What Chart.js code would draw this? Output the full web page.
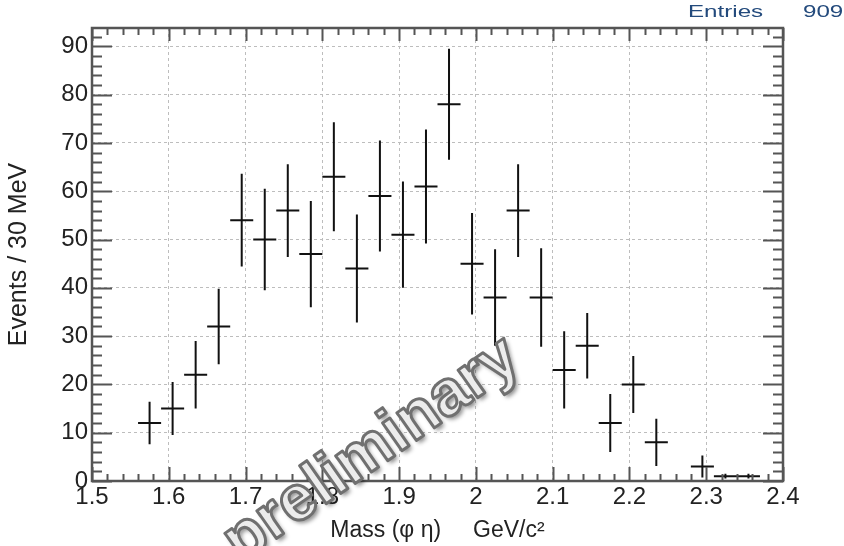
<!DOCTYPE html>
<html>
<head>
<meta charset="utf-8">
<script src="https://cdn.jsdelivr.net/npm/chart.js@4"></script>
<style>
  html, body { margin: 0; padding: 0; background: #fff; }
  #wrap { width: 844px; height: 546px; position: relative; }
</style>
</head>
<body>
<div id="wrap"><canvas id="massChart" width="844" height="546"></canvas></div>
<script>
// bin centres (30 MeV bins), contents and errors
const binCenters = [1.575, 1.605, 1.635, 1.665, 1.695, 1.725, 1.755, 1.785, 1.815, 1.845,
                    1.875, 1.905, 1.935, 1.965, 1.995, 2.025, 2.055, 2.085, 2.115, 2.145,
                    2.175, 2.205, 2.235, 2.295, 2.325, 2.355];
const counts = [12, 15, 22, 32, 54, 50, 56, 47, 63, 44,
                59, 51, 61, 78, 45, 38, 56, 38, 23, 28,
                12, 20, 8, 3, 1, 1];
const errors = [4.4, 5.5, 7, 7.8, 9.6, 10.5, 9.6, 11, 11.3, 11.2,
                11.5, 11, 11.8, 11.5, 10.5, 10, 9.6, 10.2, 8, 6.8,
                6, 5.9, 4.9, 2.3, 0.5, 0.5];
const binWidth = 0.03;
const xTicks = [1.5, 1.6, 1.7, 1.8, 1.9, 2.0, 2.1, 2.2, 2.3, 2.4];
const yTicks = [0, 10, 20, 30, 40, 50, 60, 70, 80, 90];
const entries = 909;

const FONT = "'Liberation Sans', Arial, Helvetica, sans-serif";

// error crosses: horizontal = bin width, vertical = error
const errorBars = {
    id: "errorBars",
    afterDatasetsDraw(chart) {
        const ctx = chart.ctx, xs = chart.scales.x, ys = chart.scales.y;
        ctx.save();
        ctx.strokeStyle = "#111";
        ctx.lineWidth = 2;
        binCenters.forEach((c, i) => {
            const px = xs.getPixelForValue(c);
            const py = ys.getPixelForValue(counts[i]);
            ctx.beginPath();
            ctx.moveTo(xs.getPixelForValue(c - binWidth / 2), py);
            ctx.lineTo(xs.getPixelForValue(c + binWidth / 2), py);
            ctx.moveTo(px, ys.getPixelForValue(counts[i] + errors[i]));
            ctx.lineTo(px, ys.getPixelForValue(Math.max(0, counts[i] - errors[i])));
            ctx.stroke();
        });
        ctx.restore();
    }
};

// ROOT-style frame with inner ticks on all four sides
const frame = {
    id: "frame",
    afterDatasetsDraw(chart) {
        const ctx = chart.ctx, xs = chart.scales.x, ys = chart.scales.y;
        const a = chart.chartArea;
        ctx.save();
        ctx.strokeStyle = "#555";
        ctx.lineWidth = 2;
        ctx.beginPath();
        for (let v = 1.5; v <= 2.4001; v += 0.02) {
            const px = Math.round(xs.getPixelForValue(v)) + 0.5;
            const major = Math.abs(v * 10 - Math.round(v * 10)) < 1e-6;
            ctx.moveTo(px, a.bottom); ctx.lineTo(px, a.bottom - (major ? 14 : 7));
            ctx.moveTo(px, a.top); ctx.lineTo(px, a.top + (major ? 13 : 7));
        }
        for (let v = 0; v <= 93; v += 2) {
            const py = Math.round(ys.getPixelForValue(v)) + 0.5;
            const major = v % 10 === 0;
            ctx.moveTo(a.left, py); ctx.lineTo(a.left + (major ? 20 : 10), py);
            ctx.moveTo(a.right, py); ctx.lineTo(a.right - (major ? 20 : 10), py);
        }
        ctx.stroke();
        ctx.lineWidth = 2.5;
        ctx.strokeRect(a.left, a.top, a.right - a.left, a.bottom - a.top);
        ctx.restore();
    }
};

// stats text and watermark
const overlay = {
    id: "overlay",
    afterDraw(chart) {
        const ctx = chart.ctx;
        ctx.save();
        ctx.fillStyle = "#234a7c";
        ctx.font = "17px " + FONT;
        ctx.textBaseline = "middle";
        ctx.save();
        ctx.translate(688, 12);
        ctx.scale(1.42, 1);
        ctx.fillText("Entries", 0, 0);
        ctx.restore();
        ctx.save();
        ctx.translate(803, 12);
        ctx.scale(1.42, 1);
        ctx.fillText(String(entries), 0, 0);
        ctx.restore();

        ctx.translate(372, 450);
        ctx.rotate(-35 * Math.PI / 180);
        ctx.font = "bold 64px " + FONT;
        ctx.textAlign = "center";
        ctx.textBaseline = "middle";
        ctx.lineJoin = "round";
        ctx.shadowColor = "rgba(0,0,0,0.45)";
        ctx.shadowOffsetX = 3;
        ctx.shadowOffsetY = 3;
        ctx.shadowBlur = 4;
        ctx.fillStyle = "#ececec";
        ctx.fillText("preliminary", 0, 0);
        ctx.shadowColor = "transparent";
        ctx.strokeStyle = "#707070";
        ctx.lineWidth = 3;
        ctx.strokeText("preliminary", 0, 0);
        ctx.restore();
    }
};

document.addEventListener("DOMContentLoaded", function () {
    const ctx = document.getElementById("massChart").getContext("2d");
    new Chart(ctx, {
        type: "scatter",
        data: {
            datasets: [{
                label: "Mass",
                data: binCenters.map((x, i) => ({ x: x, y: counts[i] })),
                pointRadius: 0,
                showLine: false
            }]
        },
        options: {
            responsive: false,
            animation: false,
            layout: { padding: { top: 28, right: 61, left: 0, bottom: 0 } },
            plugins: { legend: { display: false }, tooltip: { enabled: false } },
            scales: {
                x: {
                    type: "linear",
                    min: xTicks[0],
                    max: xTicks[xTicks.length - 1],
                    afterBuildTicks: s => { s.ticks = xTicks.map(v => ({ value: v })); },
                    afterFit: s => { s.height = 65; },
                    ticks: {
                        font: { family: FONT, size: 24 },
                        color: "#222",
                        padding: 2,
                        maxRotation: 0,
                        autoSkip: false,
                        callback: v => String(Math.round(v * 10) / 10)
                    },
                    grid: { color: "#bdbdbd", lineWidth: 1, drawTicks: false, tickLength: 0 },
                    border: { display: false, dash: [3, 3] },
                    title: {
                        display: true,
                        text: "Mass (\u03c6 \u03b7)     GeV/c\u00b2",
                        font: { family: FONT, size: 23 },
                        color: "#222",
                        padding: { top: 0, bottom: 2 }
                    }
                },
                y: {
                    min: 0,
                    max: 93.8,
                    afterBuildTicks: s => { s.ticks = yTicks.map(v => ({ value: v })); },
                    afterFit: s => { s.width = 92; },
                    ticks: {
                        font: { family: FONT, size: 24 },
                        color: "#222",
                        padding: 4
                    },
                    grid: { color: "#bdbdbd", lineWidth: 1, drawTicks: false, tickLength: 0 },
                    border: { display: false, dash: [3, 3] },
                    title: {
                        display: true,
                        text: "Events / 30 MeV",
                        font: { family: FONT, size: 25 },
                        color: "#222",
                        padding: { top: 4, bottom: 0 }
                    }
                }
            }
        },
        plugins: [errorBars, frame, overlay]
    });
});
</script>
</body>
</html>
